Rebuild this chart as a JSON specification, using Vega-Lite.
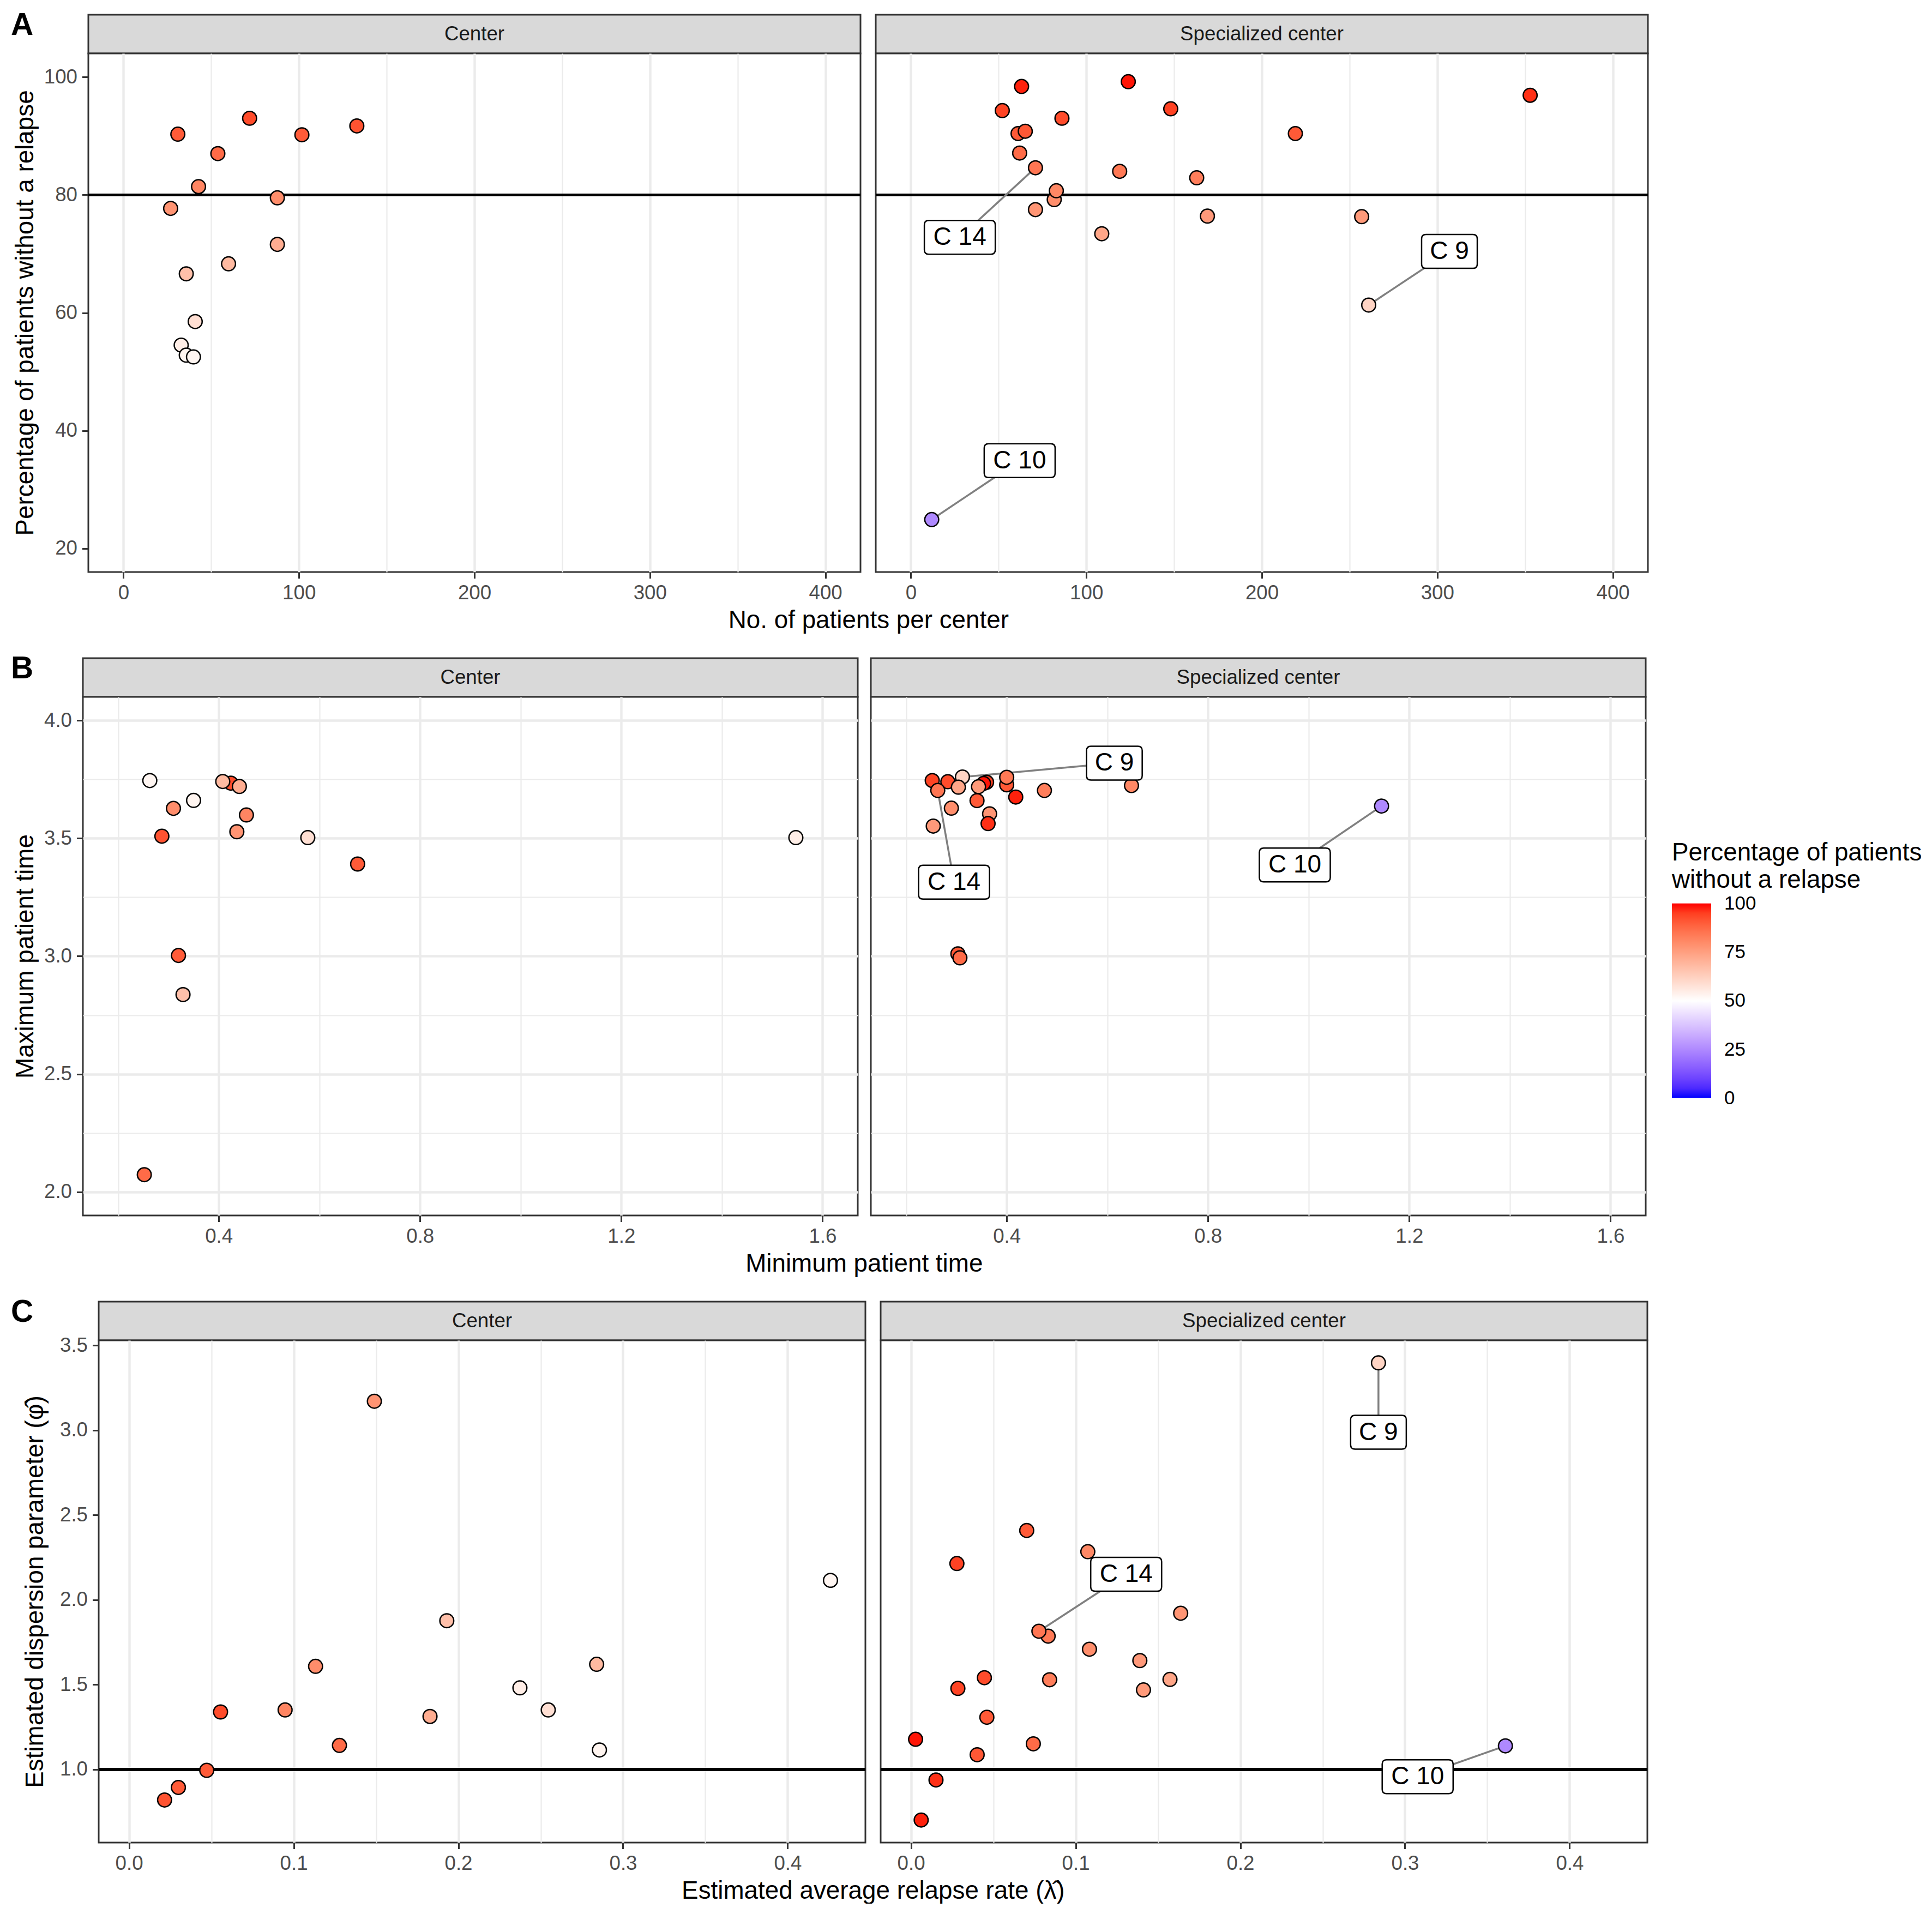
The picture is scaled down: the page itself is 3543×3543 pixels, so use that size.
{
"$schema":"https://vega.github.io/schema/vega-lite/v6.json",
"background":"white",
"padding":{"left":20,"top":17,"right":0,"bottom":0},
"config":{
 "font":"Liberation Sans",
 "view":{"stroke":"#333333","strokeWidth":3,"fill":"white"},
 "axis":{"domain":false,"gridColor":"#ebebeb","tickColor":"#333333","tickWidth":3,"tickSize":11.5,"labelFont":"Liberation Sans","labelFontSize":36.7,"labelColor":"#4d4d4d","labelPadding":9,"titleFont":"Liberation Sans","titleFontSize":45.8,"titleColor":"#000000","titleFontWeight":"normal","labelOverlap":false,"labelFlush":false,"titlePadding":10},
 "title":{"font":"Liberation Sans","color":"black"}
},
"datasets":{
"strips":[{"t":"Center"},{"t":"Specialized center"}],
"pts":[
{"row":"A","grp":"Center","x":31.0,"y":90.3,"pct":90.3},
{"row":"A","grp":"Center","x":71.9,"y":93.0,"pct":93.0},
{"row":"A","grp":"Center","x":101.7,"y":90.2,"pct":90.2},
{"row":"A","grp":"Center","x":133.0,"y":91.7,"pct":91.7},
{"row":"A","grp":"Center","x":53.8,"y":87.0,"pct":87.0},
{"row":"A","grp":"Center","x":42.8,"y":81.4,"pct":81.4},
{"row":"A","grp":"Center","x":87.7,"y":79.5,"pct":79.5},
{"row":"A","grp":"Center","x":26.9,"y":77.7,"pct":77.7},
{"row":"A","grp":"Center","x":87.7,"y":71.6,"pct":71.6},
{"row":"A","grp":"Center","x":59.9,"y":68.3,"pct":68.3},
{"row":"A","grp":"Center","x":35.8,"y":66.6,"pct":66.6},
{"row":"A","grp":"Center","x":40.9,"y":58.5,"pct":58.5},
{"row":"A","grp":"Center","x":32.9,"y":54.5,"pct":54.5},
{"row":"A","grp":"Center","x":35.8,"y":52.8,"pct":52.8},
{"row":"A","grp":"Center","x":39.9,"y":52.5,"pct":52.5},
{"row":"A","grp":"Specialized","x":63.1,"y":98.4,"pct":98.4},
{"row":"A","grp":"Specialized","x":123.9,"y":99.2,"pct":99.2},
{"row":"A","grp":"Specialized","x":352.9,"y":96.9,"pct":96.9},
{"row":"A","grp":"Specialized","x":52.1,"y":94.3,"pct":94.3},
{"row":"A","grp":"Specialized","x":148.1,"y":94.6,"pct":94.6},
{"row":"A","grp":"Specialized","x":86.1,"y":93.0,"pct":93.0},
{"row":"A","grp":"Specialized","x":61.1,"y":90.4,"pct":90.4},
{"row":"A","grp":"Specialized","x":65.2,"y":90.8,"pct":90.8},
{"row":"A","grp":"Specialized","x":219.1,"y":90.4,"pct":90.4},
{"row":"A","grp":"Specialized","x":62.0,"y":87.1,"pct":87.1},
{"row":"A","grp":"Specialized","x":71.0,"y":84.6,"pct":84.6,"label":"C 14","lx":27.9,"ly":72.8},
{"row":"A","grp":"Specialized","x":119.0,"y":84.0,"pct":84.0},
{"row":"A","grp":"Specialized","x":162.9,"y":82.9,"pct":82.9},
{"row":"A","grp":"Specialized","x":81.7,"y":79.2,"pct":79.2},
{"row":"A","grp":"Specialized","x":82.9,"y":80.7,"pct":80.7},
{"row":"A","grp":"Specialized","x":71.0,"y":77.5,"pct":77.5},
{"row":"A","grp":"Specialized","x":169.0,"y":76.4,"pct":76.4},
{"row":"A","grp":"Specialized","x":256.9,"y":76.3,"pct":76.3},
{"row":"A","grp":"Specialized","x":108.8,"y":73.4,"pct":73.4},
{"row":"A","grp":"Specialized","x":260.9,"y":61.3,"pct":61.3,"label":"C 9","lx":306.9,"ly":70.4},
{"row":"A","grp":"Specialized","x":11.9,"y":24.9,"pct":24.9,"label":"C 10","lx":62.0,"ly":34.9},
{"row":"B","grp":"Center","x":0.263,"y":3.745,"pct":52.5},
{"row":"B","grp":"Center","x":0.310,"y":3.627,"pct":79.5},
{"row":"B","grp":"Center","x":0.350,"y":3.661,"pct":52.8},
{"row":"B","grp":"Center","x":0.287,"y":3.509,"pct":91.7},
{"row":"B","grp":"Center","x":0.424,"y":3.734,"pct":93.0},
{"row":"B","grp":"Center","x":0.408,"y":3.741,"pct":68.3},
{"row":"B","grp":"Center","x":0.441,"y":3.720,"pct":71.6},
{"row":"B","grp":"Center","x":0.455,"y":3.599,"pct":81.4},
{"row":"B","grp":"Center","x":0.436,"y":3.528,"pct":77.7},
{"row":"B","grp":"Center","x":0.577,"y":3.503,"pct":58.5},
{"row":"B","grp":"Center","x":0.676,"y":3.391,"pct":90.2},
{"row":"B","grp":"Center","x":1.547,"y":3.503,"pct":54.5},
{"row":"B","grp":"Center","x":0.320,"y":3.003,"pct":90.3},
{"row":"B","grp":"Center","x":0.329,"y":2.837,"pct":66.6},
{"row":"B","grp":"Center","x":0.252,"y":2.073,"pct":87.0},
{"row":"B","grp":"Specialized","x":0.252,"y":3.745,"pct":94.3},
{"row":"B","grp":"Specialized","x":0.283,"y":3.740,"pct":93.0},
{"row":"B","grp":"Specialized","x":0.360,"y":3.738,"pct":94.6},
{"row":"B","grp":"Specialized","x":0.354,"y":3.733,"pct":99.2},
{"row":"B","grp":"Specialized","x":0.312,"y":3.760,"pct":61.3,"label":"C 9","lx":0.614,"ly":3.819},
{"row":"B","grp":"Specialized","x":0.344,"y":3.719,"pct":76.3},
{"row":"B","grp":"Specialized","x":0.304,"y":3.717,"pct":73.4},
{"row":"B","grp":"Specialized","x":0.263,"y":3.703,"pct":84.6,"label":"C 14","lx":0.2954,"ly":3.314},
{"row":"B","grp":"Specialized","x":0.400,"y":3.727,"pct":90.8},
{"row":"B","grp":"Specialized","x":0.400,"y":3.759,"pct":84.0},
{"row":"B","grp":"Specialized","x":0.418,"y":3.675,"pct":98.4},
{"row":"B","grp":"Specialized","x":0.475,"y":3.703,"pct":82.9},
{"row":"B","grp":"Specialized","x":0.648,"y":3.724,"pct":80.7},
{"row":"B","grp":"Specialized","x":0.290,"y":3.628,"pct":79.2},
{"row":"B","grp":"Specialized","x":0.341,"y":3.660,"pct":90.4},
{"row":"B","grp":"Specialized","x":0.366,"y":3.604,"pct":77.5},
{"row":"B","grp":"Specialized","x":0.363,"y":3.5625,"pct":96.9},
{"row":"B","grp":"Specialized","x":0.254,"y":3.552,"pct":76.4},
{"row":"B","grp":"Specialized","x":0.303,"y":3.010,"pct":90.4},
{"row":"B","grp":"Specialized","x":0.307,"y":2.993,"pct":87.1},
{"row":"B","grp":"Specialized","x":1.145,"y":3.637,"pct":24.9,"label":"C 10","lx":0.9726,"ly":3.387},
{"row":"C","grp":"Center","x":0.149,"y":3.171,"pct":77.7},
{"row":"C","grp":"Center","x":0.193,"y":1.877,"pct":66.6},
{"row":"C","grp":"Center","x":0.426,"y":2.115,"pct":52.5},
{"row":"C","grp":"Center","x":0.1133,"y":1.608,"pct":79.5},
{"row":"C","grp":"Center","x":0.284,"y":1.620,"pct":68.3},
{"row":"C","grp":"Center","x":0.2374,"y":1.481,"pct":54.5},
{"row":"C","grp":"Center","x":0.0556,"y":1.339,"pct":93.0},
{"row":"C","grp":"Center","x":0.0948,"y":1.351,"pct":81.4},
{"row":"C","grp":"Center","x":0.1828,"y":1.3125,"pct":71.6},
{"row":"C","grp":"Center","x":0.2546,"y":1.351,"pct":58.5},
{"row":"C","grp":"Center","x":0.1278,"y":1.142,"pct":87.0},
{"row":"C","grp":"Center","x":0.2857,"y":1.115,"pct":52.8},
{"row":"C","grp":"Center","x":0.0472,"y":0.995,"pct":90.2},
{"row":"C","grp":"Center","x":0.0300,"y":0.894,"pct":90.3},
{"row":"C","grp":"Center","x":0.0216,"y":0.820,"pct":91.7},
{"row":"C","grp":"Specialized","x":0.2839,"y":3.397,"pct":61.3,"label":"C 9","lx":0.2839,"ly":2.988},
{"row":"C","grp":"Specialized","x":0.0703,"y":2.409,"pct":90.4},
{"row":"C","grp":"Specialized","x":0.1074,"y":2.284,"pct":80.7},
{"row":"C","grp":"Specialized","x":0.0279,"y":2.214,"pct":94.6},
{"row":"C","grp":"Specialized","x":0.1638,"y":1.921,"pct":77.5},
{"row":"C","grp":"Specialized","x":0.0833,"y":1.786,"pct":84.0},
{"row":"C","grp":"Specialized","x":0.0777,"y":1.815,"pct":84.6,"label":"C 14","lx":0.1307,"ly":2.151},
{"row":"C","grp":"Specialized","x":0.1084,"y":1.709,"pct":79.2},
{"row":"C","grp":"Specialized","x":0.1390,"y":1.642,"pct":76.4},
{"row":"C","grp":"Specialized","x":0.0446,"y":1.541,"pct":93.0},
{"row":"C","grp":"Specialized","x":0.0842,"y":1.529,"pct":82.9},
{"row":"C","grp":"Specialized","x":0.1573,"y":1.531,"pct":73.4},
{"row":"C","grp":"Specialized","x":0.0285,"y":1.478,"pct":94.3},
{"row":"C","grp":"Specialized","x":0.1412,"y":1.469,"pct":76.3},
{"row":"C","grp":"Specialized","x":0.0461,"y":1.308,"pct":90.4},
{"row":"C","grp":"Specialized","x":0.0028,"y":1.178,"pct":99.2},
{"row":"C","grp":"Specialized","x":0.0743,"y":1.151,"pct":87.1},
{"row":"C","grp":"Specialized","x":0.0402,"y":1.087,"pct":90.8},
{"row":"C","grp":"Specialized","x":0.361,"y":1.139,"pct":24.9,"label":"C 10","lx":0.3077,"ly":0.957},
{"row":"C","grp":"Specialized","x":0.0152,"y":0.938,"pct":96.9},
{"row":"C","grp":"Specialized","x":0.0062,"y":0.702,"pct":98.4}
]},
"spacing":36,
"resolve":{"scale":{"x":"independent","y":"independent","fill":"shared"}},
"vconcat":[
{
 "title":{"text":"A","anchor":"start","orient":"top","offset":-50,"fontSize":57,"fontWeight":"bold","color":"black"},
 "resolve":{"scale":{"x":"independent","y":"independent","fill":"shared"}},
 "vconcat":[{
  "title":{"text":"No. of patients per center","orient":"bottom","anchor":"middle","offset":8,"dx":70,"fontSize":45.8,"fontWeight":"normal","color":"black"},
  "spacing":0,
  "resolve":{"scale":{"x":"independent","y":"independent","fill":"shared"}},
  "hconcat":[
  {"width":1,"height":1,"data":{"name":"strips"},"transform":[{"filter":"false"}],"mark":"text","encoding":{"text":{"field":"t"}},"view":{"stroke":null,"fill":null}},
  {"spacing":20,
  "resolve":{"scale":{"x":"independent","y":"independent","fill":"shared"}},
  "hconcat":[
   {"spacing":0,"bounds":"flush","resolve":{"scale":{"x":"independent","y":"independent","fill":"shared"}},
    "vconcat":[
     {"width":1416,"height":71,"data":{"name":"strips"},"transform":[{"filter":"datum.t == 'Center'"}],
      "mark":{"type":"text","fontSize":36.7,"color":"#1a1a1a","baseline":"middle","align":"center"},
      "encoding":{"text":{"field":"t"},"x":{"datum":0.5,"type":"quantitative","scale":{"domain":[0,1]},"axis":null},"y":{"datum":0.5,"type":"quantitative","scale":{"domain":[0,1]},"axis":null}},
      "view":{"fill":"#d9d9d9","stroke":"#333333","strokeWidth":3}},
     {"width":1416,"height":951,"data":{"name":"pts"},"transform":[{"filter":"datum.row == 'A' && datum.grp == 'Center'"}],
      "layer":[
       {"mark":{"type":"rule","color":"black","strokeWidth":4.4},"encoding":{"y":{"datum":80,"type":"quantitative"}}},
       {"mark":{"type":"circle","size":650,"stroke":"black","strokeWidth":2.5,"opacity":1},
        "encoding":{
         "x":{"field":"x","type":"quantitative","scale":{"domain":[-20,420],"nice":false,"zero":false},
          "axis":{"values":[0,50,100,150,200,250,300,350,400],"format":"d","title":null,"labelExpr":"datum.value % 100 == 0 ? datum.label : ''","gridWidth":{"condition":{"test":"datum.value % 100 != 0","value":2.2},"value":4.4},"tickOpacity":{"condition":{"test":"datum.value % 100 != 0","value":0},"value":1}}},
         "y":{"field":"y","type":"quantitative","scale":{"domain":[16,104],"nice":false,"zero":false},
          "axis":{"values":[20,30,40,50,60,70,80,90,100],"format":"d","title":"Percentage of patients without a relapse","labelExpr":"datum.value % 20 == 0 ? datum.label : ''","gridWidth":{"condition":{"test":"datum.value % 20 != 0","value":2.2},"value":4.4},"tickOpacity":{"condition":{"test":"datum.value % 20 != 0","value":0},"value":1}}},
         "fill":{"field":"pct","type":"quantitative","title":["Percentage of patients","without a relapse"],"scale":{"type":"linear","domain":[-0.01,50,100.01],"range":["#0000ff","#ffffff","#ff0000"],"interpolate":"lab"},
          "legend":{"orient":"none","legendX":3046,"legendY":1515,"direction":"vertical","gradientLength":357,"gradientThickness":72,"values":[0,25,50,75,100],"titleFontSize":45.8,"titleFontWeight":"normal","titleColor":"black","titleLineHeight":50,"titlePadding":19,"titleLimit":1000,"labelFontSize":35,"labelColor":"black","labelOffset":24,"labelOverlap":false,"gradientStrokeWidth":0,"padding":0}}}}
      ]}
    ]},
   {"spacing":0,"bounds":"flush","resolve":{"scale":{"x":"independent","y":"independent","fill":"shared"}},
    "vconcat":[
     {"width":1416,"height":71,"data":{"name":"strips"},"transform":[{"filter":"datum.t == 'Specialized center'"}],
      "mark":{"type":"text","fontSize":36.7,"color":"#1a1a1a","baseline":"middle","align":"center"},
      "encoding":{"text":{"field":"t"},"x":{"datum":0.5,"type":"quantitative","scale":{"domain":[0,1]},"axis":null},"y":{"datum":0.5,"type":"quantitative","scale":{"domain":[0,1]},"axis":null}},
      "view":{"fill":"#d9d9d9","stroke":"#333333","strokeWidth":3}},
     {"width":1416,"height":951,"data":{"name":"pts"},"transform":[{"filter":"datum.row == 'A' && datum.grp == 'Specialized'"}],
      "layer":[
       {"mark":{"type":"rule","color":"black","strokeWidth":4.4},"encoding":{"y":{"datum":80,"type":"quantitative"}}},
       {"transform":[{"filter":"isValid(datum.label)"}],"mark":{"type":"rule","color":"#808080","strokeWidth":3.5},
        "encoding":{"x":{"field":"x","type":"quantitative","title":null},"y":{"field":"y","type":"quantitative","title":null},"x2":{"field":"lx"},"y2":{"field":"ly"}}},
       {"mark":{"type":"circle","size":650,"stroke":"black","strokeWidth":2.5,"opacity":1},
        "encoding":{
         "x":{"field":"x","type":"quantitative","scale":{"domain":[-20,420],"nice":false,"zero":false},
          "axis":{"values":[0,50,100,150,200,250,300,350,400],"format":"d","title":null,"labelExpr":"datum.value % 100 == 0 ? datum.label : ''","gridWidth":{"condition":{"test":"datum.value % 100 != 0","value":2.2},"value":4.4},"tickOpacity":{"condition":{"test":"datum.value % 100 != 0","value":0},"value":1}}},
         "y":{"field":"y","type":"quantitative","scale":{"domain":[16,104],"nice":false,"zero":false},
          "axis":{"values":[20,30,40,50,60,70,80,90,100],"title":null,"labels":false,"ticks":false,"gridWidth":{"condition":{"test":"datum.value % 20 != 0","value":2.2},"value":4.4}}},
         "fill":{"field":"pct","type":"quantitative","title":["Percentage of patients","without a relapse"],"scale":{"type":"linear","domain":[-0.01,50,100.01],"range":["#0000ff","#ffffff","#ff0000"],"interpolate":"lab"},
          "legend":{"orient":"none","legendX":3046,"legendY":1515,"direction":"vertical","gradientLength":357,"gradientThickness":72,"values":[0,25,50,75,100],"titleFontSize":45.8,"titleFontWeight":"normal","titleColor":"black","titleLineHeight":50,"titlePadding":19,"titleLimit":1000,"labelFontSize":35,"labelColor":"black","labelOffset":24,"labelOverlap":false,"gradientStrokeWidth":0,"padding":0}}}},
       {"transform":[{"filter":"isValid(datum.label)"}],"mark":{"type":"point","filled":true,"fill":"white","stroke":"black","strokeWidth":2.5,"opacity":1,"size":19600},
        "encoding":{"x":{"field":"lx","type":"quantitative","title":null},"y":{"field":"ly","type":"quantitative","title":null},
         "shape":{"condition":{"test":"datum.label == 'C 9'","value":"M-0.615,-0.443L0.615,-0.443Q0.729,-0.443,0.729,-0.329L0.729,0.329Q0.729,0.443,0.615,0.443L-0.615,0.443Q-0.729,0.443,-0.729,0.329L-0.729,-0.329Q-0.729,-0.443,-0.615,-0.443Z"},"value":"M-0.815,-0.443L0.815,-0.443Q0.929,-0.443,0.929,-0.329L0.929,0.329Q0.929,0.443,0.815,0.443L-0.815,0.443Q-0.929,0.443,-0.929,0.329L-0.929,-0.329Q-0.929,-0.443,-0.815,-0.443Z"}}},
       {"transform":[{"filter":"isValid(datum.label)"}],"mark":{"type":"text","fontSize":46,"color":"black","baseline":"middle","align":"center"},
        "encoding":{"x":{"field":"lx","type":"quantitative","title":null},"y":{"field":"ly","type":"quantitative","title":null},"text":{"field":"label"}}}
      ]}
    ]}
  ]}]
 }]
},
{
 "title":{"text":"B","anchor":"start","orient":"top","offset":-50,"fontSize":57,"fontWeight":"bold","color":"black"},
 "resolve":{"scale":{"x":"independent","y":"independent","fill":"shared"}},
 "vconcat":[{
  "title":{"text":"Minimum patient time","orient":"bottom","anchor":"middle","offset":8,"dx":65,"fontSize":45.8,"fontWeight":"normal","color":"black"},
  "spacing":0,
  "resolve":{"scale":{"x":"independent","y":"independent","fill":"shared"}},
  "hconcat":[
  {"width":1,"height":1,"data":{"name":"strips"},"transform":[{"filter":"false"}],"mark":"text","encoding":{"text":{"field":"t"}},"view":{"stroke":null,"fill":null}},
  {"spacing":20,
  "resolve":{"scale":{"x":"independent","y":"independent","fill":"shared"}},
  "hconcat":[
   {"spacing":0,"bounds":"flush","resolve":{"scale":{"x":"independent","y":"independent","fill":"shared"}},
    "vconcat":[
     {"width":1421,"height":71,"data":{"name":"strips"},"transform":[{"filter":"datum.t == 'Center'"}],
      "mark":{"type":"text","fontSize":36.7,"color":"#1a1a1a","baseline":"middle","align":"center"},
      "encoding":{"text":{"field":"t"},"x":{"datum":0.5,"type":"quantitative","scale":{"domain":[0,1]},"axis":null},"y":{"datum":0.5,"type":"quantitative","scale":{"domain":[0,1]},"axis":null}},
      "view":{"fill":"#d9d9d9","stroke":"#333333","strokeWidth":3}},
     {"width":1421,"height":951,"data":{"name":"pts"},"transform":[{"filter":"datum.row == 'B' && datum.grp == 'Center'"}],
      "layer":[
       {"mark":{"type":"circle","size":650,"stroke":"black","strokeWidth":2.5,"opacity":1},
        "encoding":{
         "x":{"field":"x","type":"quantitative","scale":{"domain":[0.13,1.67],"nice":false,"zero":false},
          "axis":{"values":[0.2,0.4,0.6,0.8,1.0,1.2,1.4,1.6],"format":".1f","title":null,"labelExpr":"round(datum.value*10) % 4 == 0 ? datum.label : ''","gridWidth":{"condition":{"test":"round(datum.value*10) % 4 != 0","value":2.2},"value":4.4},"tickOpacity":{"condition":{"test":"round(datum.value*10) % 4 != 0","value":0},"value":1}}},
         "y":{"field":"y","type":"quantitative","scale":{"domain":[1.9,4.1],"nice":false,"zero":false},
          "axis":{"values":[2,2.25,2.5,2.75,3,3.25,3.5,3.75,4],"format":".1f","title":"Maximum patient time","labelExpr":"round(datum.value*100) % 50 == 0 ? datum.label : ''","gridWidth":{"condition":{"test":"round(datum.value*100) % 50 != 0","value":2.2},"value":4.4},"tickOpacity":{"condition":{"test":"round(datum.value*100) % 50 != 0","value":0},"value":1}}},
         "fill":{"field":"pct","type":"quantitative","title":["Percentage of patients","without a relapse"],"scale":{"type":"linear","domain":[-0.01,50,100.01],"range":["#0000ff","#ffffff","#ff0000"],"interpolate":"lab"},
          "legend":{"orient":"none","legendX":3046,"legendY":1515,"direction":"vertical","gradientLength":357,"gradientThickness":72,"values":[0,25,50,75,100],"titleFontSize":45.8,"titleFontWeight":"normal","titleColor":"black","titleLineHeight":50,"titlePadding":19,"titleLimit":1000,"labelFontSize":35,"labelColor":"black","labelOffset":24,"labelOverlap":false,"gradientStrokeWidth":0,"padding":0}}}}
      ]}
    ]},
   {"spacing":0,"bounds":"flush","resolve":{"scale":{"x":"independent","y":"independent","fill":"shared"}},
    "vconcat":[
     {"width":1421,"height":71,"data":{"name":"strips"},"transform":[{"filter":"datum.t == 'Specialized center'"}],
      "mark":{"type":"text","fontSize":36.7,"color":"#1a1a1a","baseline":"middle","align":"center"},
      "encoding":{"text":{"field":"t"},"x":{"datum":0.5,"type":"quantitative","scale":{"domain":[0,1]},"axis":null},"y":{"datum":0.5,"type":"quantitative","scale":{"domain":[0,1]},"axis":null}},
      "view":{"fill":"#d9d9d9","stroke":"#333333","strokeWidth":3}},
     {"width":1421,"height":951,"data":{"name":"pts"},"transform":[{"filter":"datum.row == 'B' && datum.grp == 'Specialized'"}],
      "layer":[
       {"transform":[{"filter":"isValid(datum.label)"}],"mark":{"type":"rule","color":"#808080","strokeWidth":3.5},
        "encoding":{"x":{"field":"x","type":"quantitative","title":null},"y":{"field":"y","type":"quantitative","title":null},"x2":{"field":"lx"},"y2":{"field":"ly"}}},
       {"mark":{"type":"circle","size":650,"stroke":"black","strokeWidth":2.5,"opacity":1},
        "encoding":{
         "x":{"field":"x","type":"quantitative","scale":{"domain":[0.13,1.67],"nice":false,"zero":false},
          "axis":{"values":[0.2,0.4,0.6,0.8,1.0,1.2,1.4,1.6],"format":".1f","title":null,"labelExpr":"round(datum.value*10) % 4 == 0 ? datum.label : ''","gridWidth":{"condition":{"test":"round(datum.value*10) % 4 != 0","value":2.2},"value":4.4},"tickOpacity":{"condition":{"test":"round(datum.value*10) % 4 != 0","value":0},"value":1}}},
         "y":{"field":"y","type":"quantitative","scale":{"domain":[1.9,4.1],"nice":false,"zero":false},
          "axis":{"values":[2,2.25,2.5,2.75,3,3.25,3.5,3.75,4],"title":null,"labels":false,"ticks":false,"gridWidth":{"condition":{"test":"round(datum.value*100) % 50 != 0","value":2.2},"value":4.4}}},
         "fill":{"field":"pct","type":"quantitative","title":["Percentage of patients","without a relapse"],"scale":{"type":"linear","domain":[-0.01,50,100.01],"range":["#0000ff","#ffffff","#ff0000"],"interpolate":"lab"},
          "legend":{"orient":"none","legendX":3046,"legendY":1515,"direction":"vertical","gradientLength":357,"gradientThickness":72,"values":[0,25,50,75,100],"titleFontSize":45.8,"titleFontWeight":"normal","titleColor":"black","titleLineHeight":50,"titlePadding":19,"titleLimit":1000,"labelFontSize":35,"labelColor":"black","labelOffset":24,"labelOverlap":false,"gradientStrokeWidth":0,"padding":0}}}},
       {"transform":[{"filter":"isValid(datum.label)"}],"mark":{"type":"point","filled":true,"fill":"white","stroke":"black","strokeWidth":2.5,"opacity":1,"size":19600},
        "encoding":{"x":{"field":"lx","type":"quantitative","title":null},"y":{"field":"ly","type":"quantitative","title":null},
         "shape":{"condition":{"test":"datum.label == 'C 9'","value":"M-0.615,-0.443L0.615,-0.443Q0.729,-0.443,0.729,-0.329L0.729,0.329Q0.729,0.443,0.615,0.443L-0.615,0.443Q-0.729,0.443,-0.729,0.329L-0.729,-0.329Q-0.729,-0.443,-0.615,-0.443Z"},"value":"M-0.815,-0.443L0.815,-0.443Q0.929,-0.443,0.929,-0.329L0.929,0.329Q0.929,0.443,0.815,0.443L-0.815,0.443Q-0.929,0.443,-0.929,0.329L-0.929,-0.329Q-0.929,-0.443,-0.815,-0.443Z"}}},
       {"transform":[{"filter":"isValid(datum.label)"}],"mark":{"type":"text","fontSize":46,"color":"black","baseline":"middle","align":"center"},
        "encoding":{"x":{"field":"lx","type":"quantitative","title":null},"y":{"field":"ly","type":"quantitative","title":null},"text":{"field":"label"}}}
      ]}
    ]}
  ]}]
 }]
},
{
 "title":{"text":"C","anchor":"start","orient":"top","offset":-50,"fontSize":57,"fontWeight":"bold","color":"black"},
 "resolve":{"scale":{"x":"independent","y":"independent","fill":"shared"}},
 "vconcat":[{
  "title":{"text":"Estimated average relapse rate (λ̂)","orient":"bottom","anchor":"middle","offset":8,"dx":79,"fontSize":45.8,"fontWeight":"normal","color":"black"},
  "spacing":0,
  "resolve":{"scale":{"x":"independent","y":"independent","fill":"shared"}},
  "hconcat":[
  {"width":19,"height":1,"data":{"name":"strips"},"transform":[{"filter":"false"}],"mark":"text","encoding":{"text":{"field":"t"}},"view":{"stroke":null,"fill":null}},
  {"spacing":20,
  "resolve":{"scale":{"x":"independent","y":"independent","fill":"shared"}},
  "hconcat":[
   {"spacing":0,"bounds":"flush","resolve":{"scale":{"x":"independent","y":"independent","fill":"shared"}},
    "vconcat":[
     {"width":1406,"height":71,"data":{"name":"strips"},"transform":[{"filter":"datum.t == 'Center'"}],
      "mark":{"type":"text","fontSize":36.7,"color":"#1a1a1a","baseline":"middle","align":"center"},
      "encoding":{"text":{"field":"t"},"x":{"datum":0.5,"type":"quantitative","scale":{"domain":[0,1]},"axis":null},"y":{"datum":0.5,"type":"quantitative","scale":{"domain":[0,1]},"axis":null}},
      "view":{"fill":"#d9d9d9","stroke":"#333333","strokeWidth":3}},
     {"width":1406,"height":921,"data":{"name":"pts"},"transform":[{"filter":"datum.row == 'C' && datum.grp == 'Center'"}],
      "layer":[
       {"mark":{"type":"rule","color":"black","strokeWidth":4.4},"encoding":{"y":{"datum":1,"type":"quantitative"}}},
       {"mark":{"type":"circle","size":650,"stroke":"black","strokeWidth":2.5,"opacity":1},
        "encoding":{
         "x":{"field":"x","type":"quantitative","scale":{"domain":[-0.0184,0.4472],"nice":false,"zero":false},
          "axis":{"values":[0,0.05,0.1,0.15,0.2,0.25,0.3,0.35,0.4],"format":".1f","title":null,"labelExpr":"round(datum.value*100) % 10 == 0 ? datum.label : ''","gridWidth":{"condition":{"test":"round(datum.value*100) % 10 != 0","value":2.2},"value":4.4},"tickOpacity":{"condition":{"test":"round(datum.value*100) % 10 != 0","value":0},"value":1}}},
         "y":{"field":"y","type":"quantitative","scale":{"domain":[0.569,3.53],"nice":false,"zero":false},
          "axis":{"values":[0.75,1,1.25,1.5,1.75,2,2.25,2.5,2.75,3,3.25,3.5],"format":".1f","title":"Estimated dispersion parameter (φ̂)","titlePadding":21,"labelExpr":"round(datum.value*100) % 50 == 0 ? datum.label : ''","gridWidth":{"condition":{"test":"round(datum.value*100) % 50 != 0","value":2.2},"value":4.4},"tickOpacity":{"condition":{"test":"round(datum.value*100) % 50 != 0","value":0},"value":1}}},
         "fill":{"field":"pct","type":"quantitative","title":["Percentage of patients","without a relapse"],"scale":{"type":"linear","domain":[-0.01,50,100.01],"range":["#0000ff","#ffffff","#ff0000"],"interpolate":"lab"},
          "legend":{"orient":"none","legendX":3046,"legendY":1515,"direction":"vertical","gradientLength":357,"gradientThickness":72,"values":[0,25,50,75,100],"titleFontSize":45.8,"titleFontWeight":"normal","titleColor":"black","titleLineHeight":50,"titlePadding":19,"titleLimit":1000,"labelFontSize":35,"labelColor":"black","labelOffset":24,"labelOverlap":false,"gradientStrokeWidth":0,"padding":0}}}}
      ]}
    ]},
   {"spacing":0,"bounds":"flush","resolve":{"scale":{"x":"independent","y":"independent","fill":"shared"}},
    "vconcat":[
     {"width":1406,"height":71,"data":{"name":"strips"},"transform":[{"filter":"datum.t == 'Specialized center'"}],
      "mark":{"type":"text","fontSize":36.7,"color":"#1a1a1a","baseline":"middle","align":"center"},
      "encoding":{"text":{"field":"t"},"x":{"datum":0.5,"type":"quantitative","scale":{"domain":[0,1]},"axis":null},"y":{"datum":0.5,"type":"quantitative","scale":{"domain":[0,1]},"axis":null}},
      "view":{"fill":"#d9d9d9","stroke":"#333333","strokeWidth":3}},
     {"width":1406,"height":921,"data":{"name":"pts"},"transform":[{"filter":"datum.row == 'C' && datum.grp == 'Specialized'"}],
      "layer":[
       {"mark":{"type":"rule","color":"black","strokeWidth":4.4},"encoding":{"y":{"datum":1,"type":"quantitative"}}},
       {"transform":[{"filter":"isValid(datum.label)"}],"mark":{"type":"rule","color":"#808080","strokeWidth":3.5},
        "encoding":{"x":{"field":"x","type":"quantitative","title":null},"y":{"field":"y","type":"quantitative","title":null},"x2":{"field":"lx"},"y2":{"field":"ly"}}},
       {"mark":{"type":"circle","size":650,"stroke":"black","strokeWidth":2.5,"opacity":1},
        "encoding":{
         "x":{"field":"x","type":"quantitative","scale":{"domain":[-0.0184,0.4472],"nice":false,"zero":false},
          "axis":{"values":[0,0.05,0.1,0.15,0.2,0.25,0.3,0.35,0.4],"format":".1f","title":null,"labelExpr":"round(datum.value*100) % 10 == 0 ? datum.label : ''","gridWidth":{"condition":{"test":"round(datum.value*100) % 10 != 0","value":2.2},"value":4.4},"tickOpacity":{"condition":{"test":"round(datum.value*100) % 10 != 0","value":0},"value":1}}},
         "y":{"field":"y","type":"quantitative","scale":{"domain":[0.569,3.53],"nice":false,"zero":false},
          "axis":{"values":[0.75,1,1.25,1.5,1.75,2,2.25,2.5,2.75,3,3.25,3.5],"title":null,"labels":false,"ticks":false,"gridWidth":{"condition":{"test":"round(datum.value*100) % 50 != 0","value":2.2},"value":4.4}}},
         "fill":{"field":"pct","type":"quantitative","title":["Percentage of patients","without a relapse"],"scale":{"type":"linear","domain":[-0.01,50,100.01],"range":["#0000ff","#ffffff","#ff0000"],"interpolate":"lab"},
          "legend":{"orient":"none","legendX":3046,"legendY":1515,"direction":"vertical","gradientLength":357,"gradientThickness":72,"values":[0,25,50,75,100],"titleFontSize":45.8,"titleFontWeight":"normal","titleColor":"black","titleLineHeight":50,"titlePadding":19,"titleLimit":1000,"labelFontSize":35,"labelColor":"black","labelOffset":24,"labelOverlap":false,"gradientStrokeWidth":0,"padding":0}}}},
       {"transform":[{"filter":"isValid(datum.label)"}],"mark":{"type":"point","filled":true,"fill":"white","stroke":"black","strokeWidth":2.5,"opacity":1,"size":19600},
        "encoding":{"x":{"field":"lx","type":"quantitative","title":null},"y":{"field":"ly","type":"quantitative","title":null},
         "shape":{"condition":{"test":"datum.label == 'C 9'","value":"M-0.615,-0.443L0.615,-0.443Q0.729,-0.443,0.729,-0.329L0.729,0.329Q0.729,0.443,0.615,0.443L-0.615,0.443Q-0.729,0.443,-0.729,0.329L-0.729,-0.329Q-0.729,-0.443,-0.615,-0.443Z"},"value":"M-0.815,-0.443L0.815,-0.443Q0.929,-0.443,0.929,-0.329L0.929,0.329Q0.929,0.443,0.815,0.443L-0.815,0.443Q-0.929,0.443,-0.929,0.329L-0.929,-0.329Q-0.929,-0.443,-0.815,-0.443Z"}}},
       {"transform":[{"filter":"isValid(datum.label)"}],"mark":{"type":"text","fontSize":46,"color":"black","baseline":"middle","align":"center"},
        "encoding":{"x":{"field":"lx","type":"quantitative","title":null},"y":{"field":"ly","type":"quantitative","title":null},"text":{"field":"label"}}}
      ]}
    ]}
  ]}]
 }]
}
]
}
